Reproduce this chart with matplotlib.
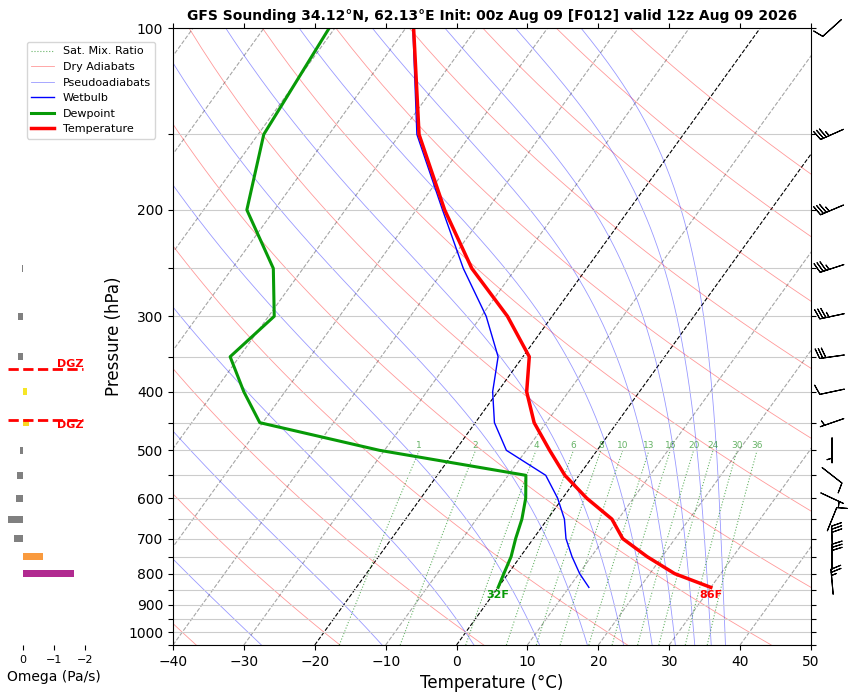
import numpy as np
import matplotlib
matplotlib.use('Agg')
import matplotlib.pyplot as plt
import matplotlib.transforms as mtransforms
from matplotlib.lines import Line2D
from matplotlib.ticker import NullLocator

# GFS sounding 34.12N 62.13E, F012
pres = np.array([100, 150, 200, 250, 300, 350, 400, 450, 500, 550, 600, 650, 700, 750, 800, 843])
temp = np.array([-68.9, -57.3, -46.0, -36.2, -26.3, -19.1, -15.9, -11.7, -6.7, -2.0,
                 3.4, 9.1, 12.6, 17.9, 23.5, 30.0])
dewp = np.array([-80.8, -79.2, -73.9, -64.2, -59.2, -61.3, -55.8, -50.4, -30.7, -7.5,
                 -5.2, -3.6, -2.5, -1.3, -0.6, 0.0])
wetb = np.array([-69.0, -57.6, -46.3, -37.4, -29.3, -23.5, -20.7, -17.3, -12.8, -4.7,
                 -0.7, 2.4, 4.6, 7.3, 10.1, 12.8])

# winds: speed (kt) and direction (deg, from)
wind_p = np.array([100, 150, 200, 250, 300, 350, 400, 450, 500, 550, 600, 650, 700, 750, 825])
wind_spd = np.array([10, 35, 35, 35, 35, 30, 10, 5, 5, 10, 5, 10, 30, 30, 25])
wind_dir = np.array([228, 246, 247, 252, 258, 262, 258, 251, 180, 128, 115, 22, 358, 360, 355])

# omega (Pa/s)
omega_p = np.array([250, 300, 350, 400, 450, 500, 550, 600, 650, 700, 750, 800])
omega = np.array([0.03, 0.16, 0.16, -0.12, -0.21, 0.09, 0.19, 0.23, 0.47, 0.29, -0.65, -1.65])

mix_ratios = [1, 2, 4, 6, 8, 10, 13, 16, 20, 24, 30, 36]  # g/kg
dry_theta_c = np.arange(-40, 181, 20)     # potential temperature, degC
moist_thetae_c = np.arange(-50, 171, 20)  # equivalent potential temperature, degC

title = 'GFS Sounding 34.12°N, 62.13°E Init: 00z Aug 09 [F012] valid 12z Aug 09 2026'

SKEW = 0.722  # horizontal shift per vertical pixel
FW, FH = 8.56, 6.97
L, B, W, H = 173 / 856, 52 / 697, 638 / 856, 617 / 697

fig = plt.figure(figsize=(FW, FH), dpi=100)
ax = fig.add_axes([L, B, W, H])
ax.set_yscale('log')
ax.set_ylim(1050, 100)
ax.set_xlim(-40, 50)

shear = SKEW * (H * FH) / (W * FW)
skew = mtransforms.Affine2D(np.array([[1, shear, 0], [0, 1, 0], [0, 0, 1]]))
tr = ax.transScale + ax.transLimits + skew + ax.transAxes

RD, CP, LV, EPS = 287.04749, 1004.6662, 2.50084e6, 0.6219569


def sat_mixing_ratio(p, t):
    es = 6.112 * np.exp(17.67 * (t - 273.15) / (t - 29.65))
    return EPS * es / (p - es)


def moist_slope(p, t):
    rs = sat_mixing_ratio(p, t)
    return (RD * t + LV * rs) / (p * (CP + LV ** 2 * rs * EPS / (RD * t ** 2)))


# isotherms
for t in np.arange(-120, 60, 10):
    if t in (-20, 0):
        ax.plot([t, t], [1050, 100], transform=tr, color='k', ls='--', lw=0.8, zorder=1.2)
    else:
        ax.plot([t, t], [1050, 100], transform=tr, color='gray', ls='--', lw=0.8,
                alpha=0.7, zorder=1.2)

# dry adiabats
p_line = np.linspace(1050, 100, 120)
for th in dry_theta_c:
    t_line = (th + 273.15) * (p_line / 1000.0) ** 0.2857 - 273.15
    ax.plot(t_line, p_line, transform=tr, color='r', lw=0.6, alpha=0.4, zorder=1.3)

# pseudoadiabats: start at 100 hPa from theta-e, integrate downward
the = moist_thetae_c + 273.15
fac = (100 / 1000.0) ** 0.2857
t_cur = the * fac
for _ in range(8):
    t_cur = the * np.exp(-LV * sat_mixing_ratio(100.0, t_cur) / (CP * t_cur)) * fac
p_m = np.linspace(100, 1050, 400)
t_m = [t_cur.copy()]
for i in range(len(p_m) - 1):
    p0, dp = p_m[i], p_m[i + 1] - p_m[i]
    k1 = moist_slope(p0, t_cur)
    k2 = moist_slope(p0 + dp / 2, t_cur + dp / 2 * k1)
    k3 = moist_slope(p0 + dp / 2, t_cur + dp / 2 * k2)
    k4 = moist_slope(p0 + dp, t_cur + dp * k3)
    t_cur = t_cur + dp / 6 * (k1 + 2 * k2 + 2 * k3 + k4)
    t_m.append(t_cur.copy())
t_m = np.array(t_m) - 273.15
for j in range(len(the)):
    ax.plot(t_m[:, j], p_m, transform=tr, color='b', lw=0.6, alpha=0.4, zorder=1.3)

# saturation mixing ratio lines
p_mix = np.linspace(1050, 500, 40)
for w in mix_ratios:
    e = p_mix * (w / 1000.0) / (EPS + w / 1000.0)
    le = np.log(e / 6.112)
    td = 243.5 * le / (17.67 - le)
    ax.plot(td, p_mix, transform=tr, color='g', ls=':', lw=0.8, alpha=0.6, zorder=1.3)
    ax.text(td[-1], p_mix[-1], str(w), transform=tr, color='g', alpha=0.6,
            fontsize=6.5, ha='center', va='bottom')

# profiles
ax.plot(wetb, pres, transform=tr, color='b', lw=1)
ax.plot(dewp, pres, transform=tr, color='#079a07', lw=2.2)
ax.plot(temp, pres, transform=tr, color='r', lw=2.5)

ax.annotate('86F', xy=(temp[-1], pres[-1]), xycoords=tr, xytext=(0, -2),
            textcoords='offset points', ha='center', va='top', color='r',
            fontsize=8, fontweight='bold')
ax.annotate('32F', xy=(dewp[-1], pres[-1]), xycoords=tr, xytext=(0, -2),
            textcoords='offset points', ha='center', va='top', color='#079a07',
            fontsize=8, fontweight='bold')

# wind barbs
rad = np.deg2rad(wind_dir)
u = -wind_spd * np.sin(rad)
v = -wind_spd * np.cos(rad)
bt = mtransforms.blended_transform_factory(ax.transAxes, ax.transData)
ax.barbs(np.full(len(wind_p), 1.033), wind_p, u, v, transform=bt, clip_on=False,
         pivot='middle', length=6, lw=0.8)

# axes styling
yt = np.arange(100, 1051, 50)
ax.set_yticks(yt)
ax.set_yticklabels([str(p) if p % 100 == 0 and p <= 1000 else '' for p in yt])
ax.yaxis.set_minor_locator(NullLocator())
ax.set_xticks(np.arange(-40, 51, 10))
ax.tick_params(labelsize=10, top=True, right=True)
ax.yaxis.grid(True, color='#cccccc', lw=0.8)
ax.set_xlabel('Temperature (°C)', fontsize=12)
ax.set_ylabel('Pressure (hPa)', fontsize=12)
ax.set_title(title, fontsize=10, fontweight='bold')
ax.set_ylim(1050, 100)
ax.set_xlim(-40, 50)

# omega panel
axw = fig.add_axes([8 / 856, B, 92 / 856, H])
axw.set_yscale('log')
colors = ['#808080' if w > 0 else plt.cm.plasma(1 - abs(w) / 2.75) for w in omega]
axw.barh(omega_p, omega, height=0.027 * omega_p, color=colors)
dgz_top = np.exp(np.interp(-18, temp, np.log(pres)))
dgz_bot = np.exp(np.interp(-12, temp, np.log(pres)))
wt = mtransforms.blended_transform_factory(axw.transAxes, axw.transData)
for pl, va in ((dgz_top, 'bottom'), (dgz_bot, 'top')):
    axw.axhline(pl, xmin=0, xmax=0.82, color='red', ls='--', lw=2)
    axw.text(0.82, pl, 'DGZ', transform=wt, color='red', fontsize=8,
             fontweight='bold', ha='right', va=va)
axw.set_ylim(1050, 100)
axw.set_xlim(0.48, -2.48)
axw.yaxis.set_major_locator(NullLocator())
axw.yaxis.set_minor_locator(NullLocator())
for s in axw.spines.values():
    s.set_visible(False)
axw.set_xticks([0, -1, -2])
axw.tick_params(axis='x', labelsize=8)
axw.set_xlabel('Omega (Pa/s)', fontsize=10)

handles = [
    Line2D([], [], color='g', ls=':', lw=0.8, alpha=0.6),
    Line2D([], [], color='r', lw=0.6, alpha=0.4),
    Line2D([], [], color='b', lw=0.6, alpha=0.4),
    Line2D([], [], color='b', lw=1),
    Line2D([], [], color='#079a07', lw=2.2),
    Line2D([], [], color='r', lw=2.5),
]
labels = ['Sat. Mix. Ratio', 'Dry Adiabats', 'Pseudoadiabats', 'Wetbulb', 'Dewpoint', 'Temperature']
fig.legend(handles, labels, loc='upper left', bbox_to_anchor=(27 / 856, 1 - 42 / 697),
           borderaxespad=0, fontsize=8)

fig.savefig('out.png', dpi=100)
